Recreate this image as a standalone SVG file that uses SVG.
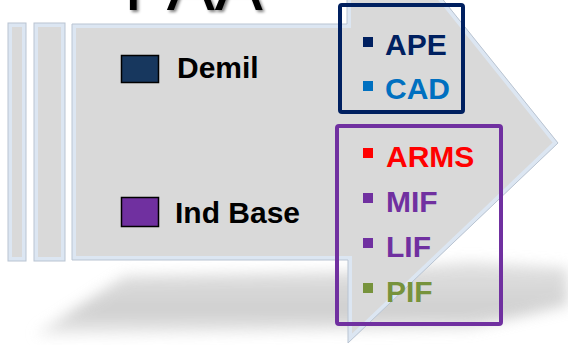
<svg xmlns="http://www.w3.org/2000/svg" width="568" height="345" viewBox="0 0 568 345">
<defs>
<style>
.body{fill:#d9d9d9}
.bevel{fill:none;stroke:#dce6f2;stroke-width:8}
.edge{fill:none;stroke:#b9c4d2;stroke-width:1}
.lbl{font-family:"Liberation Sans",Arial,sans-serif;font-weight:bold;font-size:30px}
.box{fill:none;stroke-width:4}
</style>
<filter id="blur" x="-20%" y="-50%" width="140%" height="200%"><feGaussianBlur stdDeviation="7"/></filter>
<filter id="tsh" x="-10%" y="-30%" width="120%" height="160%">
<feGaussianBlur in="SourceAlpha" stdDeviation="1.5"/><feOffset dx="2" dy="2"/>
<feComponentTransfer><feFuncA type="linear" slope="0.5"/></feComponentTransfer>
<feMerge><feMergeNode/><feMergeNode in="SourceGraphic"/></feMerge></filter>
<linearGradient id="sg" x1="0" y1="0" x2="0" y2="1">
<stop offset="0" stop-color="#dadada"/><stop offset="0.7" stop-color="#c4c4c4"/><stop offset="1" stop-color="#e8e8e8"/></linearGradient>
<clipPath id="c1"><rect x="8" y="23" width="18" height="238"/></clipPath>
<clipPath id="c2"><rect x="34" y="23" width="31" height="238"/></clipPath>
<clipPath id="c3"><path d="M72,24 H347 V-120 L558,143 L348,343 V260 H72 Z"/></clipPath>
</defs>

<g id="shadow">
<polygon points="35,335 125,276 350,272 470,262 568,268 568,305 470,328 120,334" fill="url(#sg)" filter="url(#blur)" opacity="0.8"/>
</g>

<g id="strip1">
<rect x="8" y="23" width="18" height="238" class="body"/>
<rect x="8" y="23" width="18" height="238" class="bevel" clip-path="url(#c1)"/>
<rect x="8" y="23" width="18" height="238" class="edge"/>
</g>
<g id="strip2">
<rect x="34" y="23" width="31" height="238" class="body"/>
<rect x="34" y="23" width="31" height="238" class="bevel" clip-path="url(#c2)"/>
<rect x="34" y="23" width="31" height="238" class="edge"/>
</g>
<g id="chevron">
<path d="M72,24 H347 V-120 L558,143 L348,343 V260 H72 Z" class="body"/>
<path d="M72,24 H347 V-120 L558,143 L348,343 V260 H72 Z" class="bevel" clip-path="url(#c3)"/>
<path d="M72,24 H347 V-120 L558,143 L348,343 V260 H72 Z" class="edge"/>
</g>

<g id="title">
<text x="124" y="10" font-family="Liberation Sans,Arial,sans-serif" font-size="72" fill="#000" filter="url(#tsh)">PAA</text>
</g>

<g id="legend-demil">
<rect x="121.5" y="55.5" width="37" height="27" fill="#17375e" stroke="#000" stroke-width="1.5"/>
<text x="177" y="78" class="lbl" fill="#000">Demil</text>
</g>
<g id="legend-indbase">
<rect x="121.5" y="197.5" width="37" height="29" fill="#7030a0" stroke="#000" stroke-width="1.5"/>
<text x="175" y="223" class="lbl" fill="#000">Ind Base</text>
</g>

<g id="demil-box">
<rect x="340" y="5" width="123" height="107" rx="2" class="box" stroke="#002060"/>
<rect x="363" y="37" width="10" height="10" fill="#002060"/>
<text x="385" y="55" class="lbl" fill="#002060">APE</text>
<rect x="363" y="81" width="10" height="10" fill="#0070c0"/>
<text x="385" y="99" class="lbl" fill="#0070c0">CAD</text>
</g>

<g id="indbase-box">
<rect x="337" y="126" width="164" height="198" rx="2" class="box" stroke="#7030a0"/>
<rect x="363" y="148" width="10" height="10" fill="#ff0000"/>
<text x="386" y="167" class="lbl" fill="#ff0000">ARMS</text>
<rect x="363" y="193" width="10" height="10" fill="#7030a0"/>
<text x="386" y="212" class="lbl" fill="#7030a0">MIF</text>
<rect x="363" y="238" width="10" height="10" fill="#7030a0"/>
<text x="386" y="257" class="lbl" fill="#7030a0">LIF</text>
<rect x="363" y="283" width="10" height="10" fill="#77933c"/>
<text x="386" y="302" class="lbl" fill="#77933c">PIF</text>
</g>
<g id="connectors"/>
</svg>
